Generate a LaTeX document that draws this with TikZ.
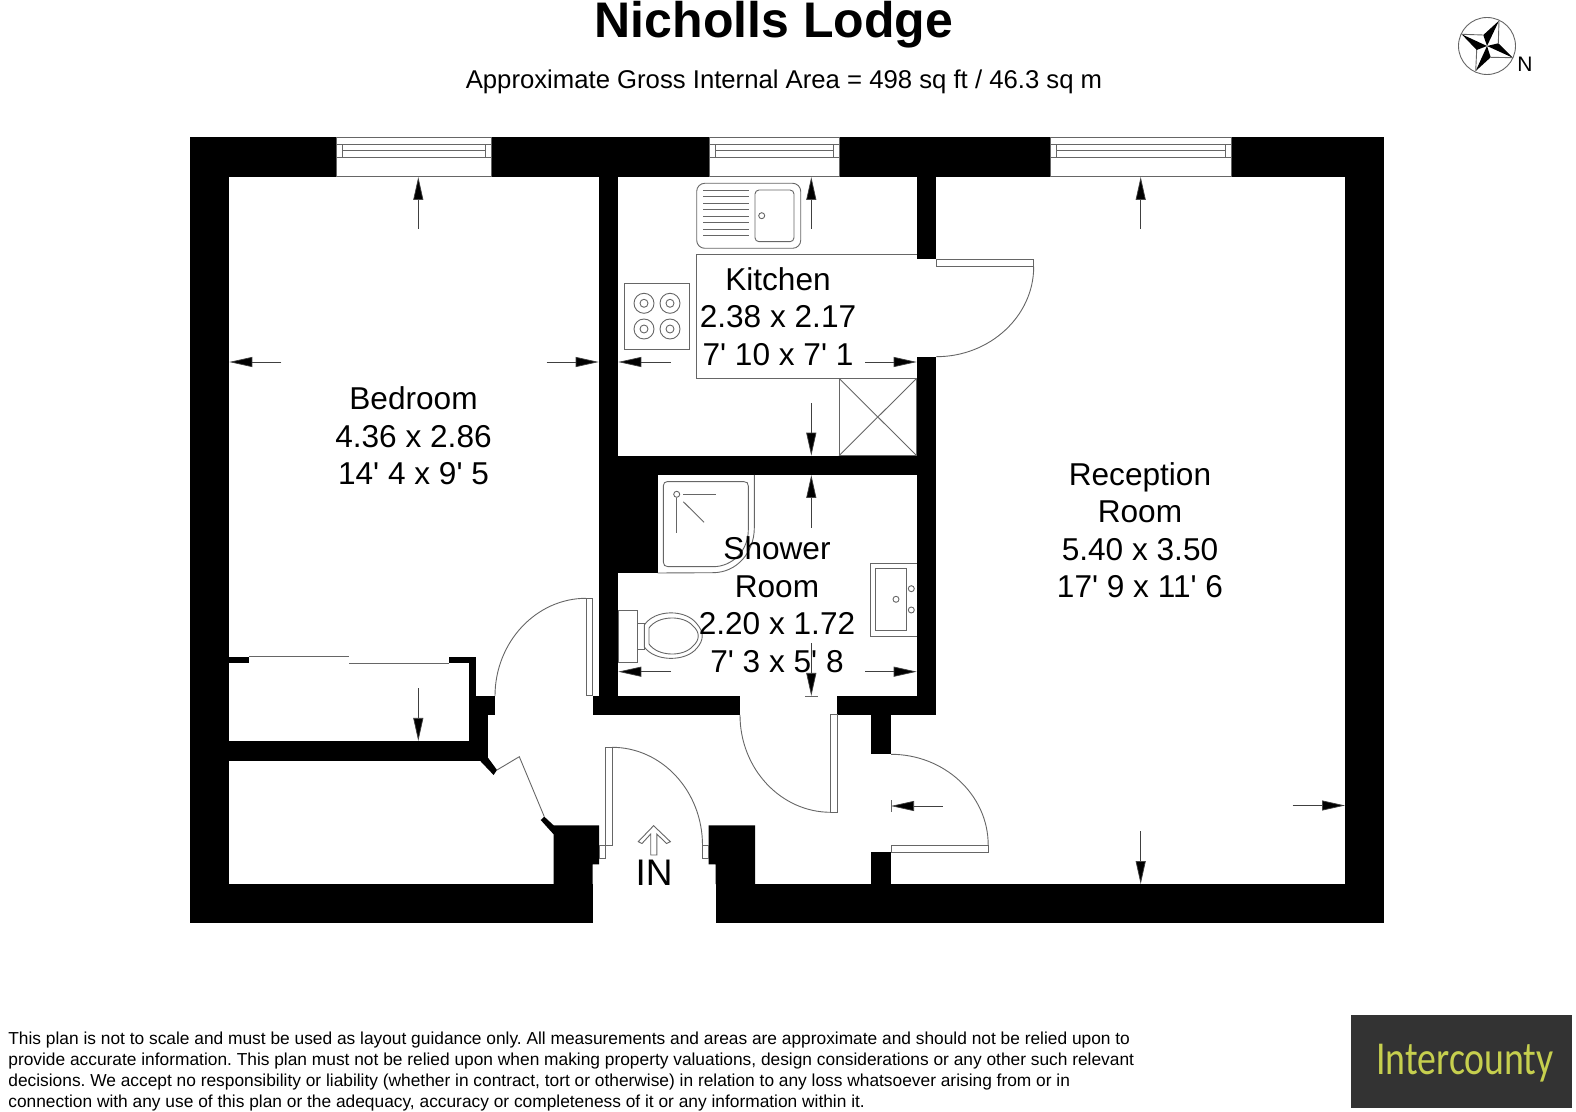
\documentclass[tikz,border=0pt]{standalone}
\usepackage{fontspec}
\setmainfont{Liberation Sans}
\newfontfamily\planfont{Liberation Sans}
\newfontfamily\logofont{Carlito}
\usetikzlibrary{arrows.meta}

\definecolor{PlanLine}{HTML}{666666}
\definecolor{LogoBack}{HTML}{333333}
\definecolor{LogoText}{HTML}{c6cf4e}

\tikzstyle{wall}=[fill=black]
\tikzstyle{fitting}=[draw=PlanLine, line width=0.45pt]
\tikzstyle{pane}=[draw=PlanLine, line width=0.5pt, fill=white]
\tikzstyle{measure}=[draw=black!75, line width=0.35pt, -{Triangle[length=11.5pt,width=5pt,fill=black]}]
\tikzstyle{room-label}=[inner sep=0pt, align=center, font=\fontsize{15.8pt}{18.75pt}\planfont]

\begin{document}
\frenchspacing
\begin{tikzpicture}[x=0.5pt, y=-0.5pt]
      \useasboundingbox (0,0) rectangle (1576,1112);

      \node (label:title) at (774,38) [anchor=base, inner sep=0pt, font=\fontsize{25pt}{30pt}\selectfont\bfseries] {Nicholls Lodge};
      \node (label:area) at (784,88.5) [anchor=base, inner sep=0pt, font=\fontsize{12.85pt}{15pt}\selectfont] {Approximate Gross Internal Area = 498 sq ft / 46.3 sq m};

      \fill[wall] (190,137.3) rectangle (1384.3,177);
      \fill[wall] (190,137.3) rectangle (229.3,922.7);
      \fill[wall] (1345,137.3) rectangle (1384.3,922.7);
      \fill[wall] (190,884) rectangle (592.5,922.7);
      \fill[wall] (715.7,884) rectangle (1384.3,922.7);
      \fill[wall] (598.7,177) rectangle (618.3,715);
      \fill[wall] (618.3,475) rectangle (657.7,573);
      \fill[wall] (916.7,177) rectangle (936.3,259.3);
      \fill[wall] (916.7,356.7) rectangle (936.3,715);
      \fill[wall] (618.3,455.7) rectangle (916.7,475);
      \fill[wall] (592.5,696) rectangle (740,715);
      \fill[wall] (837,696) rectangle (936.3,715);
      \fill[wall] (871.4,715) rectangle (891,754.3);
      \fill[wall] (871.4,851.7) rectangle (891,884);
      \fill[wall] (229.3,656.7) rectangle (249.3,663.3);
      \fill[wall] (449.3,656.7) rectangle (475.7,663.3);
      \fill[wall] (469.3,656.7) rectangle (475.7,696);
      \fill[wall] (469.3,696) rectangle (495.4,715.3);
      \fill[wall] (469.3,715.3) rectangle (488.2,760.7);
      \fill[wall] (229.3,741) rectangle (488.2,760.7);
      \fill[wall] (488.2,758) -- (497,770) -- (493.6,775) -- (480,760.7) -- cycle;
      \fill[wall] (540.7,820) -- (544.3,816.7) -- (553.6,825.3) -- (599,825.3) -- (599,864.3) -- (592.5,864.3) -- (592.5,884) -- (553.6,884) -- (553.6,834.3) -- cycle;
      \fill[wall] (708.6,825.3) -- (755,825.3) -- (755,884) -- (715.7,884) -- (715.7,864.3) -- (708.6,864.3) -- cycle;

      \foreach \wa/\wb in {336.7/491.7, 709.3/839, 1050.3/1231} {
        \draw[pane] (\wa,137.3) rectangle (\wb,177);
        \draw[fitting] (\wa,144.3) -- (\wb,144.3);
        \draw[fitting] (\wa,157.3) -- (\wb,157.3);
        \draw[fitting] (\wa+6,144.3) -- (\wa+6,157.3);
        \draw[fitting] (\wb-6,144.3) -- (\wb-6,157.3);
        \draw[fitting] (\wa+6,150.7) -- (\wb-6,150.7);
      }

      \draw[fitting] (916.7,254.3) -- (696,254.3) -- (696,378.3) -- (916.7,378.3);
      \draw[fitting] (839,378.3) rectangle (916.7,455.7);
      \draw[fitting] (839,378.3) -- (916.7,455.7);
      \draw[fitting] (839,455.7) -- (916.7,378.3);
      \draw[fitting, rounded corners=4pt] (696.7,183.3) rectangle (800.7,248.3);
      \draw[fitting, rounded corners=2pt] (755,190) rectangle (794,241.7);
      \draw[fitting] (761.7,215.7) circle (3);
      \foreach \drainY in {190,196.5,...,236} {
        \draw[fitting] (703.3,\drainY) -- (748.7,\drainY);
      }
      \draw[fitting] (624.3,283.7) rectangle (689.7,349.3);
      \foreach \ringX in {644,670} {
        \foreach \ringY in {303.3,329} {
          \draw[fitting] (\ringX,\ringY) circle (10);
          \draw[fitting] (\ringX,\ringY) circle (4);
        }
      }

      \draw[fitting] (657.7,573) -- (713,572.7) .. controls (737,572.7) and (754.3,552) .. (754.3,528) -- (754.3,475);
      \draw[fitting] (667,481.7) -- (744,481.7) .. controls (747,481.7) and (748.3,483) .. (748.3,486) -- (748.3,530) .. controls (748.3,550) and (733,566.7) .. (713,566.7) -- (668,566.7) .. controls (665,566.7) and (663.3,565) .. (663.3,562) -- (663.3,486) .. controls (663.3,483) and (665,481.7) .. (667,481.7) -- cycle;
      \draw[fitting] (676.7,494.3) circle (3);
      \draw[fitting] (683.3,494.3) -- (716,494.3);
      \draw[fitting] (676.7,498.3) -- (676.7,533.3);
      \draw[fitting] (683.3,501.7) -- (704,522.3);

      \draw[fitting] (618.3,610.3) rectangle (637.7,662);
      \draw[fitting] (637.7,623.3) rectangle (644.3,649.3);
      \draw[fitting] (644.3,625) .. controls (655,609) and (686,609) .. (697,624) .. controls (704,632) and (704,640) .. (697,648) .. controls (686,662) and (655,662) .. (644.3,647) -- cycle;
      \draw[fitting] (649,628) .. controls (658,615) and (684,615) .. (693,626) .. controls (700,632) and (700,640) .. (693,646) .. controls (684,657) and (658,657) .. (649,644) -- cycle;
      \draw[fitting] (916.7,563.3) -- (870,563.3) -- (870,636) -- (916.7,636);
      \draw[fitting] (875.3,568.3) rectangle (906.7,630.7);
      \draw[fitting] (896,599.3) circle (3);
      \draw[fitting] (911.3,588.7) circle (3);
      \draw[fitting] (911.3,610) circle (3);

      \draw[fitting] (249.3,656.7) -- (349.3,656.7);
      \draw[fitting] (349.3,663.3) -- (449.3,663.3);

      \draw[pane] (936.3,259.3) rectangle (1033.7,266.7);
      \draw[fitting] (1033.7,266.7) .. controls (1033.7,316.2) and (989.9,356.7) .. (936.3,356.7);
      \draw[pane] (586,598.3) rectangle (592.5,696);
      \draw[fitting] (586,598.3) .. controls (536,598.3) and (495,642.3) .. (495,696);
      \draw[pane] (605.7,747.3) rectangle (612,845.3);
      \draw[pane] (599,845.3) rectangle (605.7,858.3);
      \draw[pane] (702.5,845.3) rectangle (708.6,858.3);
      \draw[fitting] (612,747.3) .. controls (661.8,747.3) and (702.5,791) .. (702.5,845.3);
      \draw[pane] (830.7,715) rectangle (837,812.3);
      \draw[fitting] (740,715) .. controls (740,768.7) and (780.8,812.3) .. (830.7,812.3);
      \draw[pane] (891,845) rectangle (988.2,852);
      \draw[fitting] (891,754.3) .. controls (944.5,754.3) and (988.2,795) .. (988.2,845);
      \draw[fitting] (497,770) -- (519.3,756.7) -- (544.3,816.7);

      \draw[fitting, fill=white] (653.6,825.7) -- (670.4,841.7) -- (666.5,843.5) -- (656.8,834) -- (656.8,855) -- (650.7,855) -- (650.7,834) -- (642,843.5) -- (638.2,841.7) -- cycle;
      \node (label:in) at (654,885) [anchor=base, inner sep=0pt, font=\fontsize{18.5pt}{20pt}\selectfont] {IN};

      \draw[measure] (418.3,229) -- (418.3,177);
      \draw[measure] (281.4,362) -- (229.3,362);
      \draw[measure] (546.7,362) -- (598.7,362);
      \draw[measure] (418.3,688.3) -- (418.3,741);
      \draw[measure] (811.3,229) -- (811.3,177);
      \draw[measure] (670.7,362) -- (618.3,362);
      \draw[measure] (865,362) -- (916.7,362);
      \draw[measure] (811.3,403.3) -- (811.3,455.7);
      \draw[measure] (811.3,527.7) -- (811.3,475);
      \draw[measure] (671,671.7) -- (618.3,671.7);
      \draw[measure] (865,671.7) -- (916.7,671.7);
      \draw[measure] (811.3,643.3) -- (811.3,696);
      \draw[fitting] (805,696) -- (818.3,696);
      \draw[measure] (1140.7,229) -- (1140.7,177);
      \draw[measure] (1140.7,831) -- (1140.7,884);
      \draw[measure] (1292.5,805.5) -- (1345,805.5);
      \draw[measure] (942.9,806) -- (891,806);
      \draw[fitting] (891,800) -- (891,812);

      \node (label:bedroom) at (413.5,436) [room-label] {Bedroom\\4.36 x 2.86\\14' 4 x 9' 5};
      \node (label:kitchen) at (778,316.7) [room-label] {Kitchen\\2.38 x 2.17\\7' 10 x 7' 1};
      \node (label:shower) at (777,604.5) [room-label] {Shower\\Room\\2.20 x 1.72\\7' 3 x 5' 8};
      \node (label:reception) at (1140,530) [room-label] {Reception\\Room\\5.40 x 3.50\\17' 9 x 11' 6};

      \draw[fitting] (1487,46) circle (28.5);
      \fill[black] (1483.3,35) -- (1499,20.7) -- (1487,46) -- cycle;
      \fill[black] (1498.3,43.3) -- (1512.7,57.7) -- (1487,46) -- cycle;
      \fill[black] (1490.7,57.3) -- (1475.7,71) -- (1487,46) -- cycle;
      \fill[black] (1476.7,50) -- (1461.7,34.3) -- (1487,46) -- cycle;
      \draw[fitting] (1499,20.7) -- (1498.3,43.3);
      \draw[fitting] (1512.7,57.7) -- (1490.7,57.3);
      \draw[fitting] (1475.7,71) -- (1476.7,50);
      \draw[fitting] (1461.7,34.3) -- (1483.3,35);
      \node (label:north) at (1525,71.5) [anchor=base, inner sep=0pt, font=\fontsize{10.5pt}{12pt}\selectfont] {N};

      \node (label:notice) at (8,1107) [anchor=base west, inner sep=0pt, align=left, font=\fontsize{8.67pt}{10.45pt}\selectfont] {This plan is not to scale and must be used as layout guidance only. All measurements and areas are approximate and should not be relied upon to\\provide accurate information. This plan must not be relied upon when making property valuations, design considerations or any other such relevant\\decisions. We accept no responsibility or liability (whether in contract, tort or otherwise) in relation to any loss whatsoever arising from or in\\connection with any use of this plan or the adequacy, accuracy or completeness of it or any information within it.};

      \fill[LogoBack] (1350.7,1014.7) rectangle (1571.7,1108);
      \node (label:logo) at (1465,1074) [anchor=base, inner sep=0pt, text=LogoText, font=\fontsize{18.9pt}{20pt}\logofont] {\scalebox{1}[1.25]{Intercounty}};
    \end{tikzpicture}
\end{document}
